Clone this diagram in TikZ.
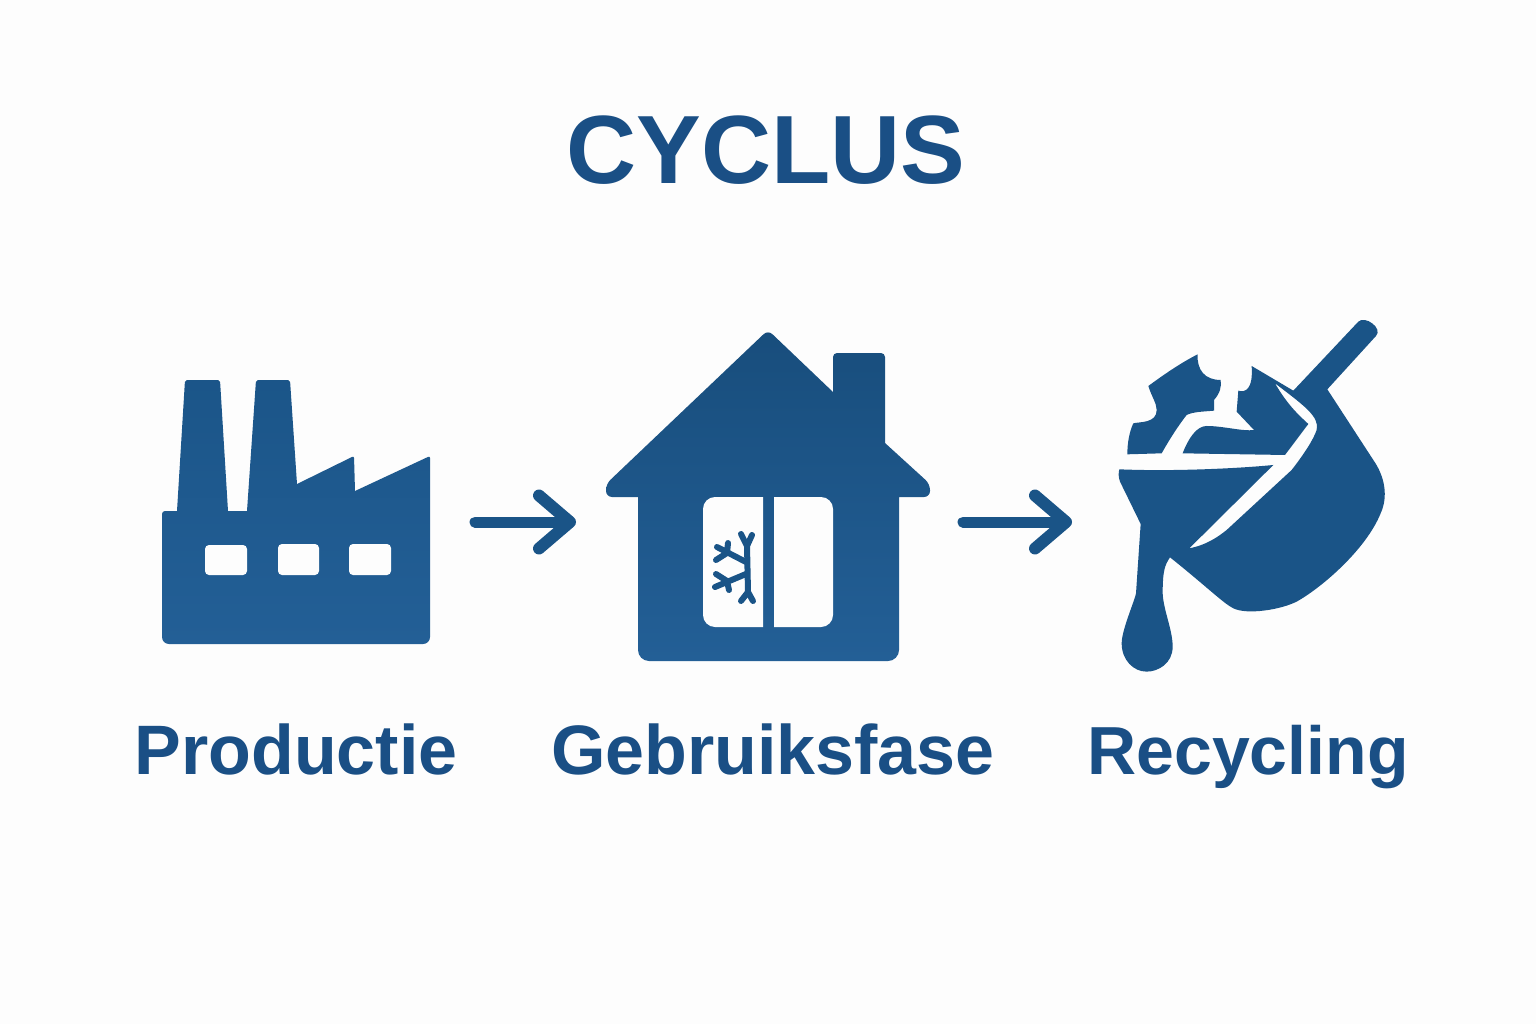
\documentclass[tikz,border=0pt]{standalone}
\usepackage{fontspec}
\setmainfont{Liberation Sans}
\usetikzlibrary{arrows.meta}
\definecolor{iconblue}{HTML}{1A5487}
\definecolor{textblue}{HTML}{1A4F85}
\definecolor{lightblue}{HTML}{235F96}
\definecolor{paper}{HTML}{FDFDFD}
\tikzset{
  label/.style={text=textblue,font=\fontsize{70}{70}\selectfont\bfseries,anchor=base},
  flow/.style={draw=iconblue,line width=11pt,line cap=round,line join=round,-{Straight Barb[round,length=31pt,width=53pt,line width=12pt]}},
  pane/.style={fill=paper},
  flake/.style={draw=iconblue,line width=6pt,line cap=round,line join=round}
}

\begin{document}
\begin{tikzpicture}[x=1pt,y=-1pt]
\fill[paper] (0,0) rectangle (1536,1024);
\useasboundingbox (0,0) rectangle (1536,1024);

\coordinate (a1) at (475,522);
\coordinate (a2) at (576,522);
\coordinate (b1) at (963,522);
\coordinate (b2) at (1072,522);

\node[label,font=\fontsize{97}{97}\selectfont\bfseries] (title) at (766,184) {CYCLUS};
\node[label] (lprod) at (296,774) {Productie};
\node[label] (lgeb) at (773,774) {Gebruiksfase};
\node[label,font=\fontsize{68}{68}\selectfont\bfseries] (lrec) at (1248,774) {Recycling};

\draw[flow] (a1) -- (a2);
\draw[flow] (b1) -- (b2);

% factory
\shade[top color=iconblue!90!lightblue,bottom color=lightblue]
  (162,520) [rounded corners=3pt] -- (162,511) [sharp corners] -- (177,511) [rounded corners=2pt] -- (185,380) -- (220,380)
  [sharp corners] -- (228,511) -- (247,511) [rounded corners=2pt] -- (256,380) -- (290,380)
  [sharp corners] -- (297,484) [rounded corners=2pt] -- (354,456) [sharp corners] -- (355,491)
  [rounded corners=2pt] -- (430,456) [rounded corners=7pt] -- (430,644) -- (162,644) [sharp corners] -- cycle;
\fill[pane,rounded corners=4pt] (205,545) rectangle (247,575);
\fill[pane,rounded corners=4pt] (278,544) rectangle (319,575);
\fill[pane,rounded corners=4pt] (349,544) rectangle (391,575);

% house
\shade[top color=iconblue!92!black,bottom color=lightblue]
  (833,392) [rounded corners=4pt] -- (833,353) -- (885,353) [sharp corners] -- (885,443)
  [rounded corners=6pt] -- (930,484) -- (930,497) [sharp corners] -- (899,497)
  [rounded corners=11pt] -- (899,661) -- (638,661) [sharp corners] -- (638,497)
  [rounded corners=6pt] -- (606,497) -- (606,484) -- (768,330) [sharp corners] -- cycle;
\fill[pane] (763,497) [rounded corners=12pt] -- (703,497) -- (703,627) [sharp corners] -- (763,627) -- cycle;
\fill[pane] (774,497) [rounded corners=12pt] -- (833,497) -- (833,627) [sharp corners] -- (774,627) -- cycle;
\draw[flake] (741,534) -- (747,546) -- (752,535) (747,546) -- (748,592) -- (741,601) (748,592) -- (753,601);
\draw[flake] (746,562) -- (717,547) (728,543) -- (727,553) (716,560) -- (727,553);
\draw[flake] (746,574) -- (715,587) (716,574) -- (727,581) (729,590) -- (727,581);

% recycling
\begin{scope}[shift={(1090,300)},x=0.3333pt,y=-0.3333pt]
\fill[iconblue] (485,198) -- (610,272) -- (805,65) .. controls (825,45) and (880,85) .. (858,108)
  -- (712,268) -- (850,480) .. controls (885,530) and (895,590) .. (872,640)
  .. controls (830,745) and (700,860) .. (620,905) .. controls (570,930) and (470,945) .. (430,925)
  .. controls (400,910) and (350,860) .. (240,772) .. controls (225,795) and (218,810) .. (218,880)
  .. controls (220,930) and (248,990) .. (248,1040) .. controls (248,1090) and (205,1115) .. (170,1115)
  .. controls (130,1115) and (95,1080) .. (95,1030) .. controls (95,990) and (135,900) .. (138,880)
  -- (152,672) -- (90,545) .. controls (85,530) and (85,520) .. (88,508)
  .. controls (250,515) and (450,505) .. (550,495) -- (298,745)
  .. controls (350,735) and (385,710) .. (410,690) -- (605,510) .. controls (640,465) and (670,420) .. (680,390)
  .. controls (690,350) and (640,315) .. (555,250) .. controls (590,310) and (620,340) .. (655,372)
  -- (585,465) -- (278,460) .. controls (295,415) and (320,378) .. (350,378)
  .. controls (400,378) and (460,395) .. (492,390) -- (440,335) -- (445,272)
  .. controls (465,278) and (490,270) .. (485,198) -- cycle;
\fill[iconblue] (323,163) .. controls (270,190) and (220,225) .. (175,258)
  .. controls (185,290) and (200,310) .. (200,330) .. controls (200,370) and (150,365) .. (130,370)
  .. controls (118,395) and (112,430) .. (112,463) -- (215,460)
  .. controls (240,415) and (270,370) .. (290,345) .. controls (310,335) and (340,335) .. (372,332)
  -- (372,300) .. controls (390,280) and (395,260) .. (392,240)
  .. controls (345,240) and (320,210) .. (323,163) -- cycle;
\end{scope}
\end{tikzpicture}
\end{document}
